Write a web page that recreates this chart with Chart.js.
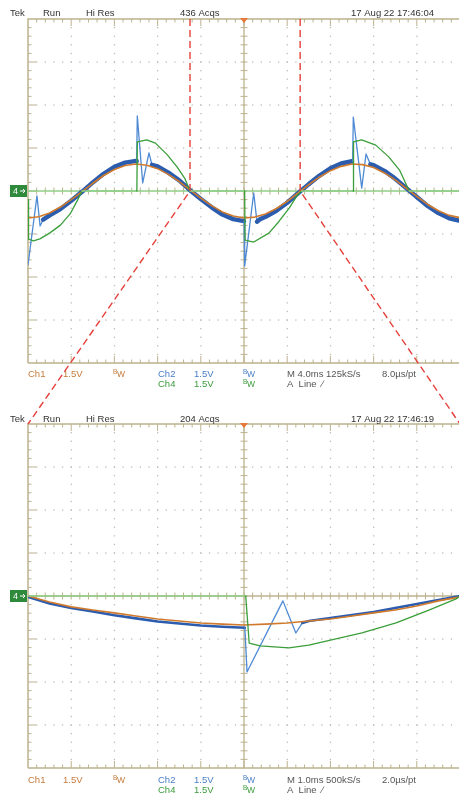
<!DOCTYPE html>
<html>
<head>
<meta charset="utf-8">
<script src="https://cdn.jsdelivr.net/npm/chart.js@4.4.0/dist/chart.umd.min.js"></script>
<style>
  html, body { margin: 0; padding: 0; background: #fff; overflow: hidden; }
  #wrap { position: relative; width: 459px; height: 803px; overflow: hidden; }
  #wrap canvas { position: absolute; left: 0; }
</style>
</head>
<body>
<div id="wrap">
  <canvas id="scopeTop" width="470" height="400" style="top:0"></canvas>
  <canvas id="scopeBottom" width="470" height="403" style="top:400px"></canvas>
  <canvas id="zoomLines" width="459" height="803" style="top:0;pointer-events:none"></canvas>
</div>
<script>
// ---- capture 1: M 4.0ms, 10 div = 40 ms, 1.5 V/div ----
var topCh1T = [0,1,2,3,4,5,6,7,8,9,10,11,12,13,14,15,16,17,18,19,20,21,22,23,24,25,26,27,28,29,30,31,32,33,34,35,36,37,38,39,40];
var topCh1V = [-0.94,-0.90,-0.77,-0.56,-0.30,-0.02,0.27,0.54,0.75,0.89,0.94,0.90,0.78,0.58,0.33,0.04,-0.25,-0.51,-0.73,-0.87,-0.94,-0.91,-0.80,-0.61,-0.36,-0.07,0.22,0.49,0.71,0.86,0.94,0.92,0.82,0.63,0.39,0.10,-0.19,-0.47,-0.69,-0.85,-0.93];

var topCh2T = [0,0.83,1.12,1.4,2,3,4,5,6,7,8,9,10,10.06,10.12,10.62,11.2,11.48,12,13,14,15,16,17,18,19,20,20.06,20.9,21.2,21.5,22,23,24,25,26,27,28,29,30,30.06,30.12,30.9,31.3,31.7,32,33,34,35,36,37,38,39,40];
var topCh2V = [-2.58,-0.17,-1.22,-1.00,-0.85,-0.63,-0.34,-0.03,0.30,0.60,0.84,0.99,1.05,1.04,2.62,0.28,1.33,0.91,0.86,0.64,0.37,0.03,-0.28,-0.57,-0.82,-0.98,-1.05,-2.62,-0.07,-1.07,-0.98,-0.90,-0.69,-0.41,-0.08,0.24,0.54,0.79,0.96,1.04,1.04,2.58,0.10,1.29,0.93,0.90,0.70,0.43,0.11,-0.21,-0.52,-0.77,-0.95,-1.04];

var topCh4T = [0,0.05,0.5,1.1,2.0,3.0,3.9,4.6,5.0,10.08,10.12,11.0,11.8,12.9,13.8,14.5,15.0,20.06,20.1,20.9,22.3,23.2,24.2,24.9,25.3,30.1,30.14,30.9,32.2,33.4,34.4,35.3,40];
var topCh4V = [-0.30,-1.68,-1.74,-1.67,-1.47,-1.19,-0.80,-0.31,0,0,1.71,1.78,1.67,1.26,0.84,0.45,0,0,-1.71,-1.78,-1.47,-1.08,-0.59,-0.17,0,0,1.71,1.78,1.60,1.19,0.73,0,0];

// ---- capture 2: M 1.0ms, 10 div = 10 ms ----
var botCh1T = [0,0.5,1,1.5,2,2.5,3,3.5,4,4.5,5,5.5,6,6.5,7,7.5,8,8.5,9,9.5,10];
var botCh1V = [0,-0.21,-0.38,-0.49,-0.59,-0.70,-0.80,-0.87,-0.94,-0.98,-1.01,-0.98,-0.94,-0.87,-0.80,-0.70,-0.59,-0.49,-0.35,-0.17,-0.03];

var botCh2T = [0,0.5,1,1.5,2,2.5,3,3.5,4,4.5,5.02,5.07,5.9,6.2,6.35,6.5,7,7.5,8,8.5,9,9.5,10];
var botCh2V = [-0.03,-0.26,-0.42,-0.54,-0.67,-0.78,-0.89,-0.96,-1.03,-1.07,-1.11,-2.65,-0.17,-1.29,-0.94,-0.87,-0.77,-0.66,-0.56,-0.42,-0.28,-0.14,0];

var botCh4T = [0,5.04,5.12,5.37,6.04,6.5,7.73,8.52,9.28,9.91,10];
var botCh4V = [0,0,-1.64,-1.74,-1.81,-1.71,-1.29,-0.94,-0.49,-0.10,0];

// span of capture 1 (ms) that capture 2 expands
var zoomWindow = [15.0, 25.2];

var FONT = '"Liberation Sans", Arial, sans-serif';
var ORANGE = '#d07a2e', BLUE = '#2b5cae', BLUE_LT = '#4f8ad4', GREEN = '#3a9e3a', GREEN_LT = '#8fcf86';
var TXT_OR = '#c57b3c', TXT_BL = '#4a7fc6', TXT_GR = '#3b9b3b', TXT_GY = '#555';

function pts(ts, vs) {
  return ts.map(function (t, i) { return { x: t, y: vs[i] }; });
}

// steep parts of the Ch2 trace are the thin, lighter ringing lines
function steep(ctx) {
  var dt = ctx.p1.parsed.x - ctx.p0.parsed.x;
  var dv = Math.abs(ctx.p1.parsed.y - ctx.p0.parsed.y);
  return dt > 0 && dv / dt > 0.6;
}

// Ch4 sitting on its ground level shows as a pale line
function atGround(ctx) {
  return ctx.p0.parsed.y === 0 && ctx.p1.parsed.y === 0;
}

// scope graticule: border, centre cross with ticks, dotted divisions
const graticule = {
  id: 'graticule',
  beforeDatasetsDraw(chart, args, opts) {
    const { ctx, chartArea: { left, top, right, bottom } } = chart;
    const w = right - left, h = bottom - top;
    const dx = w / 10, dy = h / 8;
    const cx = left + w / 2, cy = top + h / 2;
    ctx.save();
    ctx.fillStyle = '#bdbdb5';
    for (let i = 1; i < 10; i++) {
      if (i === 5) continue;
      for (let j = 1; j < 40; j++) ctx.fillRect(left + i * dx - 0.6, top + j * dy / 5 - 0.6, 1.3, 1.3);
    }
    for (let j = 1; j < 8; j++) {
      if (j === 4) continue;
      for (let i = 1; i < 50; i++) ctx.fillRect(left + i * dx / 5 - 0.6, top + j * dy - 0.6, 1.3, 1.3);
    }
    ctx.strokeStyle = '#bdb38e';
    ctx.lineWidth = 1.5;
    ctx.beginPath();
    ctx.moveTo(left, bottom); ctx.lineTo(left, top); ctx.lineTo(right, top);
    ctx.moveTo(left, bottom); ctx.lineTo(right, bottom);
    ctx.stroke();
    ctx.lineWidth = 1;
    ctx.beginPath();
    for (let i = 1; i < 50; i++) {
      const x = left + i * dx / 5;
      const len = i % 5 === 0 ? 7 : 3.5;
      ctx.moveTo(x, top); ctx.lineTo(x, top + len);
      ctx.moveTo(x, bottom); ctx.lineTo(x, bottom - len);
      ctx.moveTo(x, cy - 3.5); ctx.lineTo(x, cy + 3.5);
    }
    for (let j = 1; j < 40; j++) {
      const y = top + j * dy / 5;
      const len = j % 5 === 0 ? 8 : 3.5;
      ctx.moveTo(left, y); ctx.lineTo(left + len, y);
      ctx.moveTo(cx - 3.5, y); ctx.lineTo(cx + 3.5, y);
    }
    ctx.stroke();
    ctx.lineWidth = 1.3;
    ctx.beginPath();
    ctx.moveTo(cx, top); ctx.lineTo(cx, bottom);
    ctx.stroke();
    ctx.strokeStyle = opts.centerColor || '#bdb38e';
    ctx.beginPath();
    ctx.moveTo(left, cy); ctx.lineTo(right, cy);
    ctx.stroke();
    ctx.restore();
  },
  afterDatasetsDraw(chart) {
    const { ctx, chartArea: { left, top } } = chart;
    const cy = chart.scales.y.getPixelForValue(0);
    const cx = chart.scales.x.getPixelForValue((chart.scales.x.min + chart.scales.x.max) / 2);
    ctx.save();
    // Ch4 ground marker
    ctx.fillStyle = '#2f8a3c';
    ctx.fillRect(left - 18, cy - 6, 17, 12);
    ctx.fillStyle = '#fff';
    ctx.font = '9px ' + FONT;
    ctx.textBaseline = 'middle';
    ctx.fillText('4', left - 15, cy + 0.5);
    ctx.strokeStyle = '#fff';
    ctx.lineWidth = 1;
    ctx.beginPath();
    ctx.moveTo(left - 8, cy); ctx.lineTo(left - 3, cy);
    ctx.moveTo(left - 5, cy - 2); ctx.lineTo(left - 3, cy); ctx.lineTo(left - 5, cy + 2);
    ctx.stroke();
    // trigger position marker
    ctx.fillStyle = '#e8773a';
    ctx.beginPath();
    ctx.moveTo(cx - 4, top - 1); ctx.lineTo(cx + 4, top - 1); ctx.lineTo(cx, top + 4);
    ctx.closePath();
    ctx.fill();
    ctx.restore();
  }
};

function drawBw(ctx, x, y, color) {
  ctx.fillStyle = color;
  ctx.font = '6.5px ' + FONT;
  ctx.fillText('B', x, y - 3);
  ctx.font = '8.5px ' + FONT;
  ctx.fillText('W', x + 4, y);
}

// readout text above and below the graticule
const readout = {
  id: 'readout',
  afterDraw(chart, args, opts) {
    const ctx = chart.ctx;
    ctx.save();
    ctx.textBaseline = 'alphabetic';
    opts.items.forEach(function (it) {
      if (it.bw) { drawBw(ctx, it.x, it.y, it.color); return; }
      ctx.font = '9.5px ' + FONT;
      ctx.fillStyle = it.color;
      ctx.textAlign = it.align || 'left';
      ctx.fillText(it.text, it.x, it.y);
      ctx.textAlign = 'left';
    });
    ctx.restore();
  }
};

function headerItems(acqs, stamp, y) {
  return [
    { text: 'Tek', x: 10, y: y, color: '#333' },
    { text: 'Run', x: 43, y: y, color: '#333' },
    { text: 'Hi Res', x: 86, y: y, color: '#333' },
    { text: acqs, x: 180, y: y, color: '#333' },
    { text: stamp, x: 434, y: y, color: '#333', align: 'right' }
  ];
}

function footerItems(timebase, perPt, y1, y2) {
  return [
    { text: 'Ch1', x: 28, y: y1, color: TXT_OR },
    { text: '1.5V', x: 63, y: y1, color: TXT_OR },
    { bw: true, x: 113, y: y1, color: TXT_OR },
    { text: 'Ch2', x: 158, y: y1, color: TXT_BL },
    { text: '1.5V', x: 194, y: y1, color: TXT_BL },
    { bw: true, x: 243, y: y1, color: TXT_BL },
    { text: timebase, x: 287, y: y1, color: TXT_GY },
    { text: perPt, x: 382, y: y1, color: TXT_GY },
    { text: 'Ch4', x: 158, y: y2, color: TXT_GR },
    { text: '1.5V', x: 194, y: y2, color: TXT_GR },
    { bw: true, x: 243, y: y2, color: TXT_GR },
    { text: 'A  Line  \u2215', x: 287, y: y2, color: TXT_GY }
  ];
}

function scopeConfig(c1, c2, c4, xMax, bandWidth, padding, centerColor, items) {
  return {
    type: 'line',
    data: {
      datasets: [
        {
          label: 'Ch4', data: c4, borderColor: GREEN, borderWidth: 1.3,
          segment: {
            borderColor: function (ctx) { return atGround(ctx) ? GREEN_LT : GREEN; },
            borderWidth: function (ctx) { return atGround(ctx) ? 1.5 : 1.3; }
          }
        },
        { label: 'Ch1', data: c1, borderColor: ORANGE, borderWidth: 1.6 },
        {
          label: 'Ch2', data: c2, borderColor: BLUE, borderWidth: bandWidth,
          segment: {
            borderWidth: function (ctx) { return steep(ctx) ? 1.3 : bandWidth; },
            borderColor: function (ctx) { return steep(ctx) ? BLUE_LT : BLUE; }
          }
        }
      ]
    },
    options: {
      responsive: false,
      animation: false,
      events: [],
      layout: { padding: padding },
      elements: { point: { radius: 0 }, line: { tension: 0, borderCapStyle: 'round', borderJoinStyle: 'round' } },
      scales: {
        x: { type: 'linear', min: 0, max: xMax, display: false },
        y: { min: -6, max: 6, display: false }
      },
      plugins: {
        legend: { display: false },
        tooltip: { enabled: false },
        graticule: { centerColor: centerColor },
        readout: { items: items }
      }
    },
    plugins: [graticule, readout]
  };
}

var topChart = new Chart(document.getElementById('scopeTop'), scopeConfig(
  pts(topCh1T, topCh1V), pts(topCh2T, topCh2V), pts(topCh4T, topCh4V),
  40, 4.5, { left: 28, top: 19, right: 10, bottom: 37 }, GREEN_LT,
  headerItems('436 Acqs', '17 Aug 22 17:46:04', 16)
    .concat(footerItems('M 4.0ms 125kS/s', '8.0\u00b5s/pt', 377, 387))
));

var bottomChart = new Chart(document.getElementById('scopeBottom'), scopeConfig(
  pts(botCh1T, botCh1V), pts(botCh2T, botCh2V), pts(botCh4T, botCh4V),
  10, 2.6, { left: 28, top: 24, right: 10, bottom: 35 }, '#bdb38e',
  headerItems('204 Acqs', '17 Aug 22 17:46:19', 22)
    .concat(footerItems('M 1.0ms 500kS/s', '2.0\u00b5s/pt', 383, 393))
));

// dashed zoom indicators from capture 1 down to capture 2
(function () {
  var ctx = document.getElementById('zoomLines').getContext('2d');
  var offset = 400;
  var ya = topChart.chartArea.top;
  var y0 = topChart.scales.y.getPixelForValue(0);
  var xa = topChart.scales.x.getPixelForValue(zoomWindow[0]);
  var xb = topChart.scales.x.getPixelForValue(zoomWindow[1]);
  var yb = bottomChart.chartArea.top + offset;
  ctx.strokeStyle = '#e6403a';
  ctx.lineWidth = 1.4;
  ctx.setLineDash([7, 4]);
  ctx.beginPath();
  ctx.moveTo(xa, ya); ctx.lineTo(xa, y0); ctx.lineTo(bottomChart.chartArea.left, yb);
  ctx.moveTo(xb, ya); ctx.lineTo(xb, y0); ctx.lineTo(bottomChart.chartArea.right, yb);
  ctx.stroke();
})();
</script>
</body>
</html>
